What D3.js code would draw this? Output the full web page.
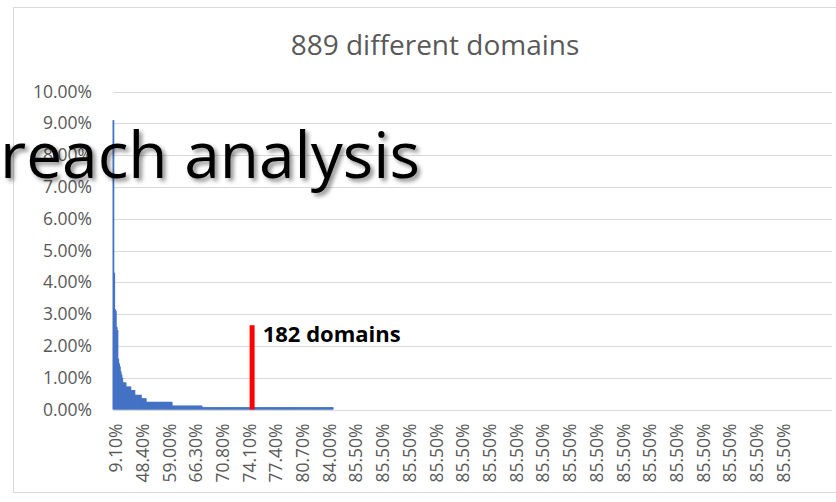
<!DOCTYPE html>
<html>
<head>
<meta charset="utf-8">
<script src="https://cdn.jsdelivr.net/npm/d3@7"></script>
<style>
  body { margin: 0; background: #fff; }
  svg { display: block; font-family: "Open Sans", "Noto Sans", sans-serif; }
</style>
</head>
<body>
<svg id="chart" width="836" height="502"></svg>
<script>
// share of traffic per domain (%), run-length: value repeated count times
var barValues = [9.1, 4.3, 3.15, 3.1, 2.6, 2.5, 1.6, 1.45, 1.35, 1.2, 1.1, 1.0, 0.85, 0.72, 0.61, 0.46, 0.35, 0.24, 0.12, 0.07, 0];
var barCounts = [1,   1,   1,    1,   1,   1,   1,   1,    1,    1,   1,   1,   4,    6,    5,    8,    6,    32,   37,   162,  617];

// category labels shown on the x axis (every 33rd domain, cumulative share)
var xLabels = ["9.10%", "48.40%", "59.00%", "66.30%", "70.80%", "74.10%", "77.40%", "80.70%", "84.00%",
  "85.50%", "85.50%", "85.50%", "85.50%", "85.50%", "85.50%", "85.50%", "85.50%", "85.50%",
  "85.50%", "85.50%", "85.50%", "85.50%", "85.50%", "85.50%", "85.50%", "85.50%"];
var labelEvery = 33;

var yTicks = [0, 1, 2, 3, 4, 5, 6, 7, 8, 9, 10];

// marker for the cut-off
var markerIndex = 172;
var markerValue = 2.65;
var markerText = "182 domains";

var titleText = "889 different domains";
var overlayText = "reach analysis";

// expand runs into one value per domain
var data = [];
barValues.forEach(function(v, i) {
  for (var k = 0; k < barCounts[i]; k++) data.push({idx: data.length, value: v});
});

var plot = {left: 112.5, right: 832, top: 91.5, bottom: 409.5};

var svg = d3.select("#chart");

// chart frame
svg.append("rect")
  .attr("x", 13.5).attr("y", 7.5)
  .attr("width", 830).attr("height", 485)
  .attr("fill", "#fff")
  .attr("stroke", "#d9d9d9");

var xScale = d3.scaleBand()
  .domain(data.map(d => d.idx))
  .range([plot.left, plot.right])
  .padding(0);

var yScale = d3.scaleLinear()
  .domain([0, 10])
  .range([plot.bottom, plot.top]);

// y axis + gridlines
var yAxisG = svg.append("g")
  .attr("class", "y_axis")
  .attr("transform", `translate(${plot.left},0)`)
  .call(d3.axisLeft(yScale)
    .tickValues(yTicks)
    .tickSize(-(plot.right - plot.left))
    .tickPadding(20.5)
    .tickFormat(d => d.toFixed(2) + "%"));

yAxisG.select(".domain").remove();
yAxisG.selectAll("line")
  .attr("stroke", "#d9d9d9")
  .attr("shape-rendering", "crispEdges");
yAxisG.selectAll("text")
  .attr("fill", "#595959")
  .style("font-family", "'Open Sans', sans-serif")
  .style("font-size", "17.5px");

// bars (slight overlap so the thin columns read as one solid block)
svg.append("g")
  .selectAll("rect")
  .data(data.filter(d => d.value > 0))
  .join("rect")
    .attr("x", d => xScale(d.idx))
    .attr("width", xScale.bandwidth() + 1)
    .attr("y", d => yScale(d.value))
    .attr("height", d => yScale(0) - yScale(d.value))
    .attr("fill", "#4472c4");

// x axis labels
var xAxisG = svg.append("g")
  .attr("class", "x_axis")
  .attr("transform", `translate(0,${plot.bottom})`)
  .call(d3.axisBottom(xScale)
    .tickValues(data.filter(d => d.idx % labelEvery === 0).map(d => d.idx))
    .tickSize(0)
    .tickFormat(i => xLabels[i / labelEvery]));

xAxisG.select(".domain").remove();
xAxisG.selectAll("text")
  .attr("transform", "rotate(-90)")
  .attr("x", -14)
  .attr("y", 3)
  .attr("dy", "0.35em")
  .attr("fill", "#595959")
  .style("text-anchor", "end")
  .style("font-family", "'Open Sans', sans-serif")
  .style("font-size", "17.5px");

// cut-off marker
svg.append("rect")
  .attr("x", xScale(markerIndex) + xScale.bandwidth() / 2 - 2.5)
  .attr("width", 5)
  .attr("y", yScale(markerValue))
  .attr("height", yScale(0) - yScale(markerValue))
  .attr("fill", "#ff0000");

svg.append("text")
  .attr("x", xScale(markerIndex) + 11)
  .attr("y", yScale(markerValue) + 16.5)
  .text(markerText)
  .style("font-weight", "bold")
  .style("font-size", "22px")
  .attr("fill", "#000");

// title
svg.append("text")
  .attr("x", 435)
  .attr("y", 55)
  .attr("text-anchor", "middle")
  .attr("fill", "#595959")
  .style("font-size", "28px")
  .text(titleText);

// overlay heading with shadow
var defs = svg.append("defs");
defs.append("filter")
  .attr("id", "shadow")
  .attr("x", "-10%").attr("y", "-20%")
  .attr("width", "130%").attr("height", "150%")
  .append("feDropShadow")
    .attr("dx", 3).attr("dy", 3)
    .attr("stdDeviation", 2)
    .attr("flood-color", "#000")
    .attr("flood-opacity", 0.45);

svg.append("text")
  .attr("x", 0)
  .attr("y", 178)
  .attr("fill", "#000")
  .attr("filter", "url(#shadow)")
  .style("font-size", "64px")
  .text(overlayText);
</script>
</body>
</html>
